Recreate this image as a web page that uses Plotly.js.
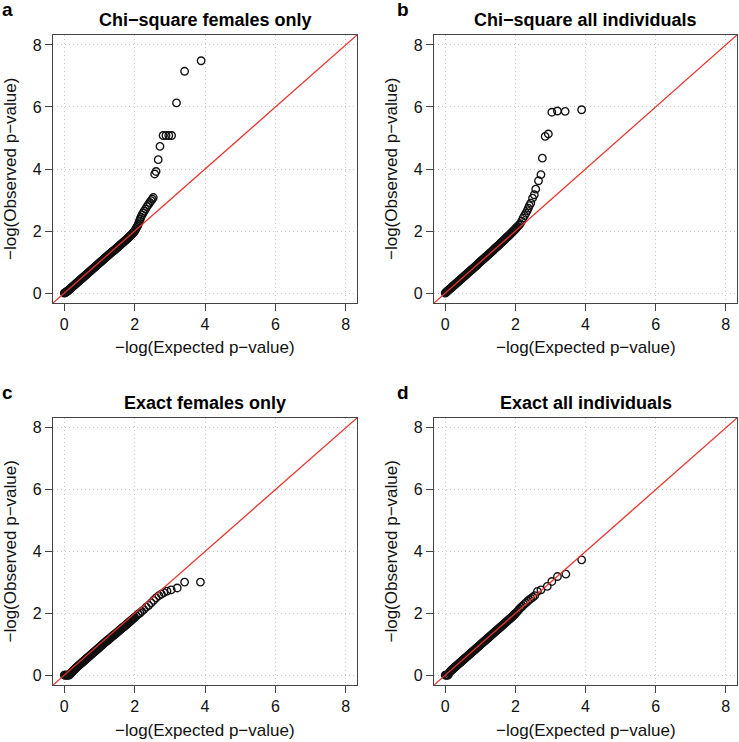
<!DOCTYPE html>
<html>
<head>
<meta charset="utf-8">
<script src="https://cdn.plot.ly/plotly-3.0.1.min.js"></script>
<style>html,body{margin:0;padding:0;background:#fff;}#chart{width:739px;height:742px;}</style>
</head>
<body>
<div id="chart"></div>
<script>
// Panel titles and letters
const panelLetters = ["a", "b", "c", "d"];
const panelTitles = ["Chi\u2212square females only", "Chi\u2212square all individuals", "Exact females only", "Exact all individuals"];
const xAxisTitle = "\u2212log(Expected p\u2212value)";
const yAxisTitle = "\u2212log(Observed p\u2212value)";
const tickValues = [0, 2, 4, 6, 8];
const refLine = [-1, 9];

// Expected -log p for the dense bulk of points (shared by all panels)
const bandX = [
  0.00,0.02,0.04,0.06,0.08,0.10,0.12,0.14,0.16,0.18,
  0.20,0.22,0.24,0.26,0.28,0.30,0.32,0.34,0.36,0.38,
  0.40,0.42,0.44,0.46,0.48,0.50,0.52,0.54,0.56,0.58,
  0.60,0.62,0.64,0.66,0.68,0.70,0.72,0.74,0.76,0.78,
  0.80,0.82,0.84,0.86,0.88,0.90,0.92,0.94,0.96,0.98,
  1.00,1.02,1.04,1.06,1.08,1.10,1.12,1.14,1.16,1.18,
  1.20,1.22,1.24,1.26,1.28,1.30,1.32,1.34,1.36,1.38,
  1.40,1.42,1.44,1.46,1.48,1.50,1.52,1.54,1.56,1.58,
  1.60,1.62,1.64,1.66,1.68,1.70,1.72,1.74,1.76,1.78,
  1.80,1.82,1.84,1.86,1.88,1.90,1.92,1.94,1.96,1.98,
  2.00];

// Panel a: Chi-square females only
const aBandY = [
  0.00,0.01,0.02,0.04,0.05,0.07,0.09,0.11,0.13,0.15,
  0.17,0.19,0.21,0.23,0.25,0.27,0.29,0.31,0.33,0.35,
  0.37,0.39,0.41,0.43,0.45,0.47,0.49,0.51,0.53,0.55,
  0.57,0.59,0.61,0.63,0.65,0.67,0.69,0.71,0.73,0.75,
  0.77,0.79,0.81,0.83,0.85,0.87,0.89,0.91,0.93,0.95,
  0.97,0.99,1.01,1.03,1.05,1.07,1.09,1.11,1.13,1.15,
  1.17,1.19,1.21,1.23,1.25,1.27,1.29,1.31,1.33,1.35,
  1.36,1.38,1.40,1.42,1.44,1.46,1.48,1.50,1.52,1.54,
  1.56,1.58,1.60,1.62,1.64,1.66,1.68,1.70,1.72,1.74,
  1.76,1.78,1.80,1.83,1.85,1.87,1.89,1.92,1.95,1.97,
  2.00];
const aTailX = [2.02,2.04,2.06,2.08,2.10,2.12,2.14,2.16,2.18,2.21,2.24,2.27,2.31,2.35,2.39,2.43,2.47,2.50,2.53,2.57,2.61,2.67,2.72,2.81,2.89,2.97,3.05,3.19,3.42,3.89];
const aTailY = [2.04,2.08,2.12,2.16,2.21,2.27,2.33,2.39,2.45,2.52,2.58,2.64,2.71,2.79,2.85,2.92,2.98,3.03,3.08,3.84,3.92,4.30,4.73,5.08,5.08,5.08,5.08,6.13,7.15,7.49];

// Panel b: Chi-square all individuals
const bBandY = [
  0.00,0.02,0.04,0.06,0.08,0.10,0.12,0.14,0.16,0.18,
  0.20,0.22,0.24,0.26,0.28,0.30,0.32,0.34,0.36,0.38,
  0.40,0.42,0.44,0.46,0.48,0.50,0.52,0.54,0.56,0.58,
  0.60,0.62,0.64,0.66,0.68,0.70,0.72,0.74,0.76,0.78,
  0.80,0.82,0.84,0.86,0.88,0.90,0.92,0.94,0.97,0.99,
  1.01,1.03,1.05,1.07,1.09,1.11,1.13,1.15,1.17,1.19,
  1.21,1.23,1.25,1.27,1.29,1.31,1.33,1.35,1.37,1.40,
  1.42,1.44,1.46,1.48,1.50,1.52,1.54,1.56,1.58,1.61,
  1.63,1.65,1.67,1.69,1.71,1.73,1.75,1.78,1.80,1.82,
  1.84,1.86,1.88,1.91,1.93,1.95,1.97,2.00,2.02,2.04,
  2.07];
const bTailX = [2.02,2.04,2.07,2.10,2.14,2.18,2.22,2.26,2.30,2.34,2.37,2.40,2.44,2.49,2.54,2.58,2.66,2.73,2.77,2.85,2.94,3.04,3.20,3.42,3.89];
const bTailY = [2.09,2.12,2.15,2.19,2.24,2.32,2.42,2.50,2.58,2.66,2.74,2.82,2.90,3.06,3.17,3.35,3.62,3.82,4.35,5.05,5.13,5.83,5.87,5.86,5.91];

// Panel c: Exact females only
const cBandY = [
  0.00,0.00,0.00,0.00,0.00,0.00,0.00,0.00,0.03,0.05,
  0.08,0.10,0.12,0.15,0.17,0.19,0.21,0.24,0.26,0.28,
  0.30,0.32,0.34,0.36,0.38,0.40,0.42,0.44,0.46,0.48,
  0.50,0.52,0.54,0.56,0.58,0.60,0.62,0.64,0.66,0.68,
  0.70,0.72,0.74,0.76,0.78,0.80,0.82,0.84,0.86,0.88,
  0.90,0.92,0.94,0.96,0.98,1.00,1.02,1.04,1.06,1.08,
  1.10,1.12,1.13,1.15,1.17,1.19,1.21,1.23,1.25,1.27,
  1.29,1.31,1.32,1.34,1.36,1.38,1.40,1.42,1.44,1.46,
  1.48,1.50,1.52,1.54,1.55,1.57,1.59,1.61,1.63,1.65,
  1.67,1.69,1.71,1.73,1.75,1.77,1.79,1.81,1.83,1.85,
  1.87];
const cTailX = [2.05,2.10,2.15,2.20,2.26,2.33,2.40,2.47,2.54,2.61,2.69,2.76,2.83,2.92,3.04,3.21,3.42,3.87];
const cTailY = [1.92,1.97,2.01,2.06,2.12,2.20,2.26,2.34,2.42,2.50,2.57,2.62,2.67,2.72,2.76,2.82,3.01,3.01];

// Panel d: Exact all individuals
const dBandY = [
  0.00,0.00,0.00,0.00,0.00,0.05,0.09,0.11,0.14,0.16,
  0.18,0.20,0.22,0.24,0.26,0.28,0.30,0.32,0.34,0.36,
  0.38,0.40,0.42,0.44,0.46,0.48,0.50,0.52,0.54,0.56,
  0.58,0.60,0.62,0.64,0.66,0.68,0.70,0.72,0.74,0.76,
  0.78,0.80,0.82,0.84,0.86,0.88,0.90,0.92,0.94,0.96,
  0.98,1.00,1.02,1.04,1.06,1.08,1.10,1.12,1.14,1.16,
  1.18,1.20,1.22,1.24,1.26,1.28,1.30,1.32,1.34,1.36,
  1.38,1.40,1.42,1.44,1.46,1.48,1.50,1.52,1.54,1.56,
  1.58,1.60,1.62,1.64,1.66,1.68,1.70,1.72,1.74,1.76,
  1.78,1.80,1.82,1.84,1.86,1.88,1.90,1.93,1.95,1.97,
  1.99];
const dTailX = [2.04,2.08,2.12,2.16,2.20,2.25,2.30,2.35,2.40,2.45,2.50,2.55,2.63,2.73,2.91,3.04,3.20,3.44,3.89];
const dTailY = [2.04,2.09,2.14,2.19,2.23,2.29,2.34,2.39,2.44,2.48,2.52,2.57,2.71,2.76,2.87,3.03,3.19,3.27,3.73];

const panelX = [bandX.concat(aTailX), bandX.concat(bTailX), bandX.concat(cTailX), bandX.concat(dTailX)];
const panelY = [aBandY.concat(aTailY), bBandY.concat(bTailY), cBandY.concat(cTailY), dBandY.concat(dTailY)];

const FONT = "Liberation Sans, Arial, Helvetica, sans-serif";
const W = 739, H = 742;
// plot boxes in pixels [left, right, top, bottom]
const boxes = [[53, 357, 35, 303], [434, 737, 35, 303], [53, 357, 418, 685], [434, 737, 418, 685]];

const traces = [];
const layout = {
  width: W, height: H,
  margin: {l: 0, r: 0, t: 0, b: 0},
  paper_bgcolor: "#ffffff",
  plot_bgcolor: "#ffffff",
  showlegend: false,
  font: {family: FONT, color: "#000"},
  annotations: []
};

for (let i = 0; i < 4; i++) {
  const n = i === 0 ? "" : String(i + 1);
  const xa = "x" + n, ya = "y" + n;
  traces.push({
    x: panelX[i], y: panelY[i], xaxis: xa, yaxis: ya,
    type: "scatter", mode: "markers",
    marker: {symbol: "circle-open", size: 7.5, color: "#111", line: {width: 1.35, color: "#111"}}
  });
  traces.push({
    x: refLine, y: refLine, xaxis: xa, yaxis: ya,
    type: "scatter", mode: "lines",
    line: {color: "#e8342e", width: 1.3},
    hoverinfo: "skip"
  });
  const b = boxes[i];
  const axCommon = {
    range: [-0.32, 8.32],
    tickmode: "array", tickvals: tickValues, ticktext: tickValues.map(String),
    ticks: "outside", ticklen: 7, tickwidth: 1, tickcolor: "#444",
    showline: true, mirror: true, linecolor: "#444", linewidth: 1.2,
    showgrid: true, gridcolor: "#c8c8c8", griddash: "1px,3px", gridwidth: 1,
    zeroline: false, fixedrange: true,
    tickfont: {family: FONT, size: 16, color: "#111"}
  };
  layout["xaxis" + n] = Object.assign({}, axCommon, {
    domain: [b[0] / W, b[1] / W], anchor: ya
  });
  layout["yaxis" + n] = Object.assign({}, axCommon, {
    domain: [1 - b[3] / H, 1 - b[2] / H], anchor: xa
  });
  const cx = (b[0] + b[1]) / 2, cy = (b[2] + b[3]) / 2;
  // panel title
  layout.annotations.push({
    text: "<b>" + panelTitles[i] + "</b>", xref: "paper", yref: "paper",
    x: cx / W, y: 1 - (b[2] - 15) / H, xanchor: "center", yanchor: "middle",
    showarrow: false, font: {family: FONT, size: 18, color: "#000"}
  });
  // panel letter
  layout.annotations.push({
    text: "<b>" + panelLetters[i] + "</b>", xref: "paper", yref: "paper",
    x: (b[0] - 53 + (i % 2 === 0 ? 0 : 14)) / W, y: 1 - (b[2] - 26) / H, xanchor: "left", yanchor: "middle",
    showarrow: false, font: {family: FONT, size: 19, color: "#000"}
  });
  // x axis title
  layout.annotations.push({
    text: xAxisTitle, xref: "paper", yref: "paper",
    x: cx / W, y: 1 - (b[3] + 45) / H, xanchor: "center", yanchor: "middle",
    showarrow: false, font: {family: FONT, size: 17, color: "#111"}
  });
  // y axis title
  layout.annotations.push({
    text: yAxisTitle, xref: "paper", yref: "paper",
    x: (b[0] - 43) / W, y: 1 - cy / H, xanchor: "center", yanchor: "middle",
    textangle: -90, showarrow: false, font: {family: FONT, size: 17, color: "#111"}
  });
}

Plotly.newPlot("chart", traces, layout, {displayModeBar: false, staticPlot: true});
</script>
</body>
</html>
